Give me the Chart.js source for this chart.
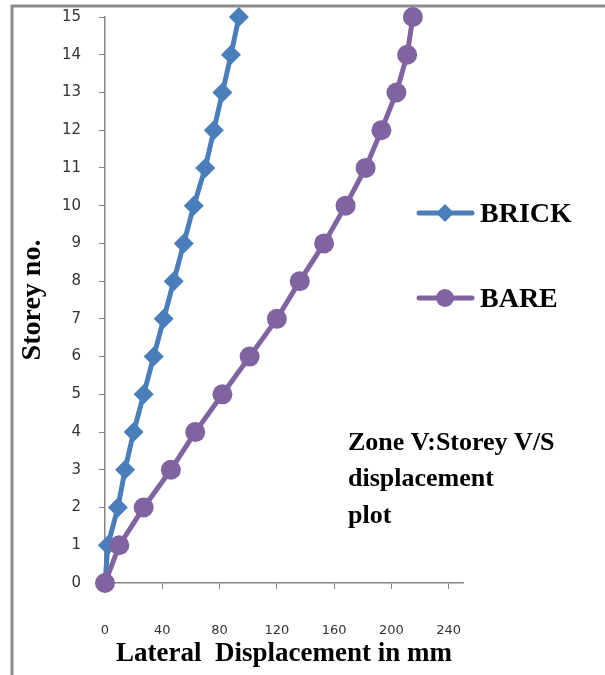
<!DOCTYPE html>
<html>
<head>
<meta charset="utf-8">
<script src="https://cdn.jsdelivr.net/npm/chart.js@4/dist/chart.umd.min.js"></script>
<style>
  body { margin: 0; background: #fff; }
  canvas { display: block; }
</style>
</head>
<body>
<canvas id="storeyChart" width="605" height="675"></canvas>
<script>
// storey numbers and lateral displacement (mm)
const storeys = [0, 1, 2, 3, 4, 5, 6, 7, 8, 9, 10, 11, 12, 13, 14, 15];
const brick = [0, 2, 9, 14, 20, 27, 34, 41, 48, 55, 62, 70, 76, 82, 88, 93.5];
const bare = [0, 10, 27, 46, 63, 82, 101, 120, 136, 153, 168, 182, 193, 203.5, 211, 215];
const xTicks = [0, 40, 80, 120, 160, 200, 240];
const noteLines = ['Zone V:Storey V/S', 'displacement', 'plot'];

const serif = '"Liberation Serif", "Times New Roman", serif';
const axisGrey = '#868686';

const toPoints = vals => storeys.map((s, i) => ({ x: vals[i], y: s }));

// grey frame + white background
const framePlugin = {
  id: 'frame',
  beforeDraw(chart) {
    const ctx = chart.ctx;
    ctx.save();
    ctx.fillStyle = '#fff';
    ctx.fillRect(0, 0, chart.width, chart.height);
    ctx.strokeStyle = '#8c8c8c';
    ctx.lineWidth = 3;
    ctx.strokeRect(12, 6, chart.width + 20, chart.height + 20);
    ctx.restore();
  }
};

// legend to the right and the note text
const legendNotePlugin = {
  id: 'legendNote',
  afterDraw(chart) {
    const ctx = chart.ctx;
    ctx.save();
    const rows = [
      { ds: chart.data.datasets[1], y: 213, base: 222 },
      { ds: chart.data.datasets[0], y: 298, base: 307 }
    ];
    rows.forEach(r => {
      ctx.strokeStyle = r.ds.borderColor;
      ctx.lineWidth = 5;
      ctx.lineCap = 'round';
      ctx.beginPath();
      ctx.moveTo(419, r.y);
      ctx.lineTo(472, r.y);
      ctx.stroke();
      ctx.fillStyle = r.ds.borderColor;
      ctx.beginPath();
      if (r.ds.pointStyle === 'rectRot') {
        ctx.moveTo(445, r.y - 9);
        ctx.lineTo(454, r.y);
        ctx.lineTo(445, r.y + 9);
        ctx.lineTo(436, r.y);
      } else {
        ctx.arc(445, r.y, 9, 0, Math.PI * 2);
      }
      ctx.closePath();
      ctx.fill();
      ctx.fillStyle = '#000';
      ctx.font = 'bold 28px ' + serif;
      ctx.textBaseline = 'alphabetic';
      ctx.fillText(r.ds.label, 480, r.base);
    });
    ctx.font = 'bold 26px ' + serif;
    ctx.fillStyle = '#000';
    [450, 486, 523].forEach((y, i) => ctx.fillText(noteLines[i], 348, y));
    ctx.restore();
  }
};

new Chart(document.getElementById('storeyChart'), {
  type: 'scatter',
  data: {
    datasets: [
      {
        label: 'BARE',
        data: toPoints(bare),
        showLine: true,
        borderColor: '#8064A2',
        backgroundColor: '#8064A2',
        borderWidth: 5,
        pointStyle: 'circle',
        pointRadius: 10,
        pointBorderWidth: 0,
        clip: false,
        order: 0
      },
      {
        label: 'BRICK',
        data: toPoints(brick),
        showLine: true,
        borderColor: '#4A7EBB',
        backgroundColor: '#4A7EBB',
        borderWidth: 5,
        pointStyle: 'rectRot',
        pointRadius: 10,
        pointBorderWidth: 0,
        clip: false,
        order: 1
      }
    ]
  },
  options: {
    responsive: false,
    animation: false,
    layout: { autoPadding: false, padding: { top: 17, right: 142, bottom: 0, left: 0 } },
    plugins: {
      legend: { display: false },
      tooltip: { enabled: false }
    },
    scales: {
      x: {
        type: 'linear',
        min: 0,
        max: 250,
        afterFit(scale) { scale.height = 92; scale.paddingLeft = 0; scale.paddingRight = 0; },
        afterBuildTicks(scale) { scale.ticks = xTicks.map(v => ({ value: v })); },
        border: { display: true, color: axisGrey, width: 1.5 },
        grid: { drawOnChartArea: false, drawTicks: true, tickLength: 6, color: axisGrey },
        ticks: {
          padding: 34,
          color: '#333',
          maxRotation: 0,
          font: { family: '"DejaVu Sans", Tahoma, sans-serif', size: 13 }
        },
        title: {
          display: true,
          text: 'Lateral  Displacement in mm',
          color: '#000',
          padding: { top: 0, bottom: 5 },
          font: { family: serif, size: 27, weight: 'bold' }
        }
      },
      y: {
        type: 'linear',
        min: 0,
        max: 15,
        afterFit(scale) { scale.width = 105; scale.paddingTop = 0; scale.paddingBottom = 0; },
        border: { display: true, color: axisGrey, width: 1.5 },
        grid: { drawOnChartArea: false, drawTicks: true, tickLength: 6, color: axisGrey },
        ticks: {
          stepSize: 1,
          padding: 18,
          color: '#333',
          font: { family: '"DejaVu Sans", Tahoma, sans-serif', size: 15 }
        },
        title: {
          display: true,
          text: 'Storey no.',
          color: '#000',
          padding: { top: 16, bottom: 0 },
          font: { family: serif, size: 28, weight: 'bold' }
        }
      }
    }
  },
  plugins: [framePlugin, legendNotePlugin]
});
</script>
</body>
</html>
